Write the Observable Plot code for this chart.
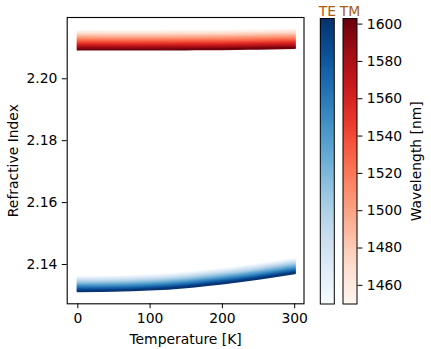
<!DOCTYPE html>
<html><head><meta charset="utf-8">
<script src="https://cdn.jsdelivr.net/npm/d3@7"></script>
<script src="https://cdn.jsdelivr.net/npm/@observablehq/plot@0.6"></script>
<style>
body{margin:0;background:#fff;}
#chart{position:relative;width:431px;height:349px;overflow:hidden;background:#fff;}
#chart svg{position:absolute;top:0;}
</style></head><body><div id="chart"></div>
<script>
// ---- data ----
const temperatures = [0, 50, 100, 150, 200, 250, 300];
const wavelengths = [1450, 1460, 1470, 1480, 1490, 1500, 1510, 1520, 1530, 1540, 1550, 1560, 1570, 1580, 1590, 1600];
// refractive index at 0 K for each wavelength
const teIndexAt0K = [2.13612, 2.13576, 2.13541, 2.13507, 2.13473, 2.13440, 2.13408, 2.13376, 2.13345, 2.13314, 2.13284, 2.13254, 2.13225, 2.13196, 2.13168, 2.13140];
const tmIndexAt0K = [2.21544, 2.21499, 2.21455, 2.21412, 2.21370, 2.21329, 2.21288, 2.21248, 2.21209, 2.21170, 2.21132, 2.21094, 2.21057, 2.21020, 2.20984, 2.20948];
// change of index with temperature (same for every wavelength of a mode)
const teThermalShift = [0, 0.0001, 0.0005, 0.0013, 0.0025, 0.0040, 0.0058];
const tmThermalShift = [0, -0.00003, -0.00003, 0.00003, 0.0001, 0.00025, 0.00045];
const xTicks = [0, 100, 200, 300];
const yTicks = [2.14, 2.16, 2.18, 2.20];
const wavelengthTicks = [1460, 1480, 1500, 1520, 1540, 1560, 1580, 1600];
const colorRange = [1450, 1603];
const modeLabels = ["TE", "TM"];

// ---- build tables ----
function table(base, shift) {
  const rows = [];
  wavelengths.forEach((wl, i) => temperatures.forEach((T, j) => rows.push({wl, T, n: base[i] + shift[j]})));
  return rows;
}
const teRows = table(teIndexAt0K, teThermalShift);
const tmRows = table(tmIndexAt0K, tmThermalShift);

const FONT = {fontFamily: "DejaVu Sans", fontSize: "13.9px", background: "transparent", color: "black", overflow: "visible"};
const blues = Plot.scale({color: {type: "linear", scheme: "blues", domain: colorRange}});
const reds = Plot.scale({color: {type: "linear", scheme: "reds", domain: colorRange}});

const main = Plot.plot({
  width: 431, height: 349,
  marginLeft: 66.7, marginRight: 127.5, marginTop: 17, marginBottom: 45.7,
  style: FONT,
  x: {domain: [-14.7, 312.9], ticks: xTicks, tickSize: 4.9, tickPadding: 4.9, label: null},
  y: {domain: [2.1273, 2.2198], ticks: yTicks, tickFormat: d3.format(".2f"), tickSize: 4.9, tickPadding: 4.9, label: null},
  marks: [
    Plot.line(teRows, {x: "T", y: "n", z: "wl", stroke: d => blues.apply(d.wl), strokeWidth: 2.1, curve: "natural", strokeLinecap: "square"}),
    Plot.line(tmRows, {x: "T", y: "n", z: "wl", stroke: d => reds.apply(d.wl), strokeWidth: 2.1, curve: "natural", strokeLinecap: "square"}),
    Plot.frame({stroke: "black", strokeWidth: 1.1}),
    Plot.text(["Temperature [K]"], {frameAnchor: "bottom", dy: 35.7, text: d => d, lineAnchor: "middle", textAnchor: "middle"}),
    Plot.text(["Refractive Index"], {frameAnchor: "left", dx: -53.2, rotate: -90, text: d => d, lineAnchor: "middle", textAnchor: "middle"})
  ]
});
main.style.left = "0px";
document.getElementById("chart").appendChild(main);

// ---- colorbars ----
const steps = d3.range(colorRange[0], colorRange[1], 0.5);
function colorbar(scheme, label, left, width, mLeft, mRight, withAxis) {
  const marks = [
    Plot.rect(steps, {x1: () => 0, x2: () => 1, y1: d => d, y2: d => Math.min(d + 0.5, colorRange[1]), fill: d => d + 0.25, shapeRendering: "crispEdges"}),
    Plot.frame({stroke: "black", strokeWidth: 1}),
    Plot.text([label], {frameAnchor: "top", dy: -7.45, text: d => d, fill: "#a85d10", lineAnchor: "middle", textAnchor: "middle"})
  ];
  if (withAxis) marks.push(Plot.text(["Wavelength [nm]"], {frameAnchor: "right", dx: 59.1, rotate: -90, text: d => d, lineAnchor: "middle", textAnchor: "middle"}));
  const svg = Plot.plot({
    width, height: 349,
    marginLeft: mLeft, marginRight: mRight, marginTop: 18, marginBottom: 45.5,
    style: FONT,
    x: {domain: [0, 1], axis: null},
    y: {domain: colorRange, axis: withAxis ? "right" : null, ticks: wavelengthTicks, tickFormat: d3.format("d"), tickSize: 4.9, tickPadding: 4.9, label: null},
    color: {type: "linear", scheme, domain: colorRange},
    marks
  });
  svg.style.left = left + "px";
  document.getElementById("chart").appendChild(svg);
}
colorbar("blues", modeLabels[0], 312, 30, 7.8, 8.2, false);
colorbar("reds", modeLabels[1], 335, 96, 7.5, 74.5, true);
</script></body></html>
